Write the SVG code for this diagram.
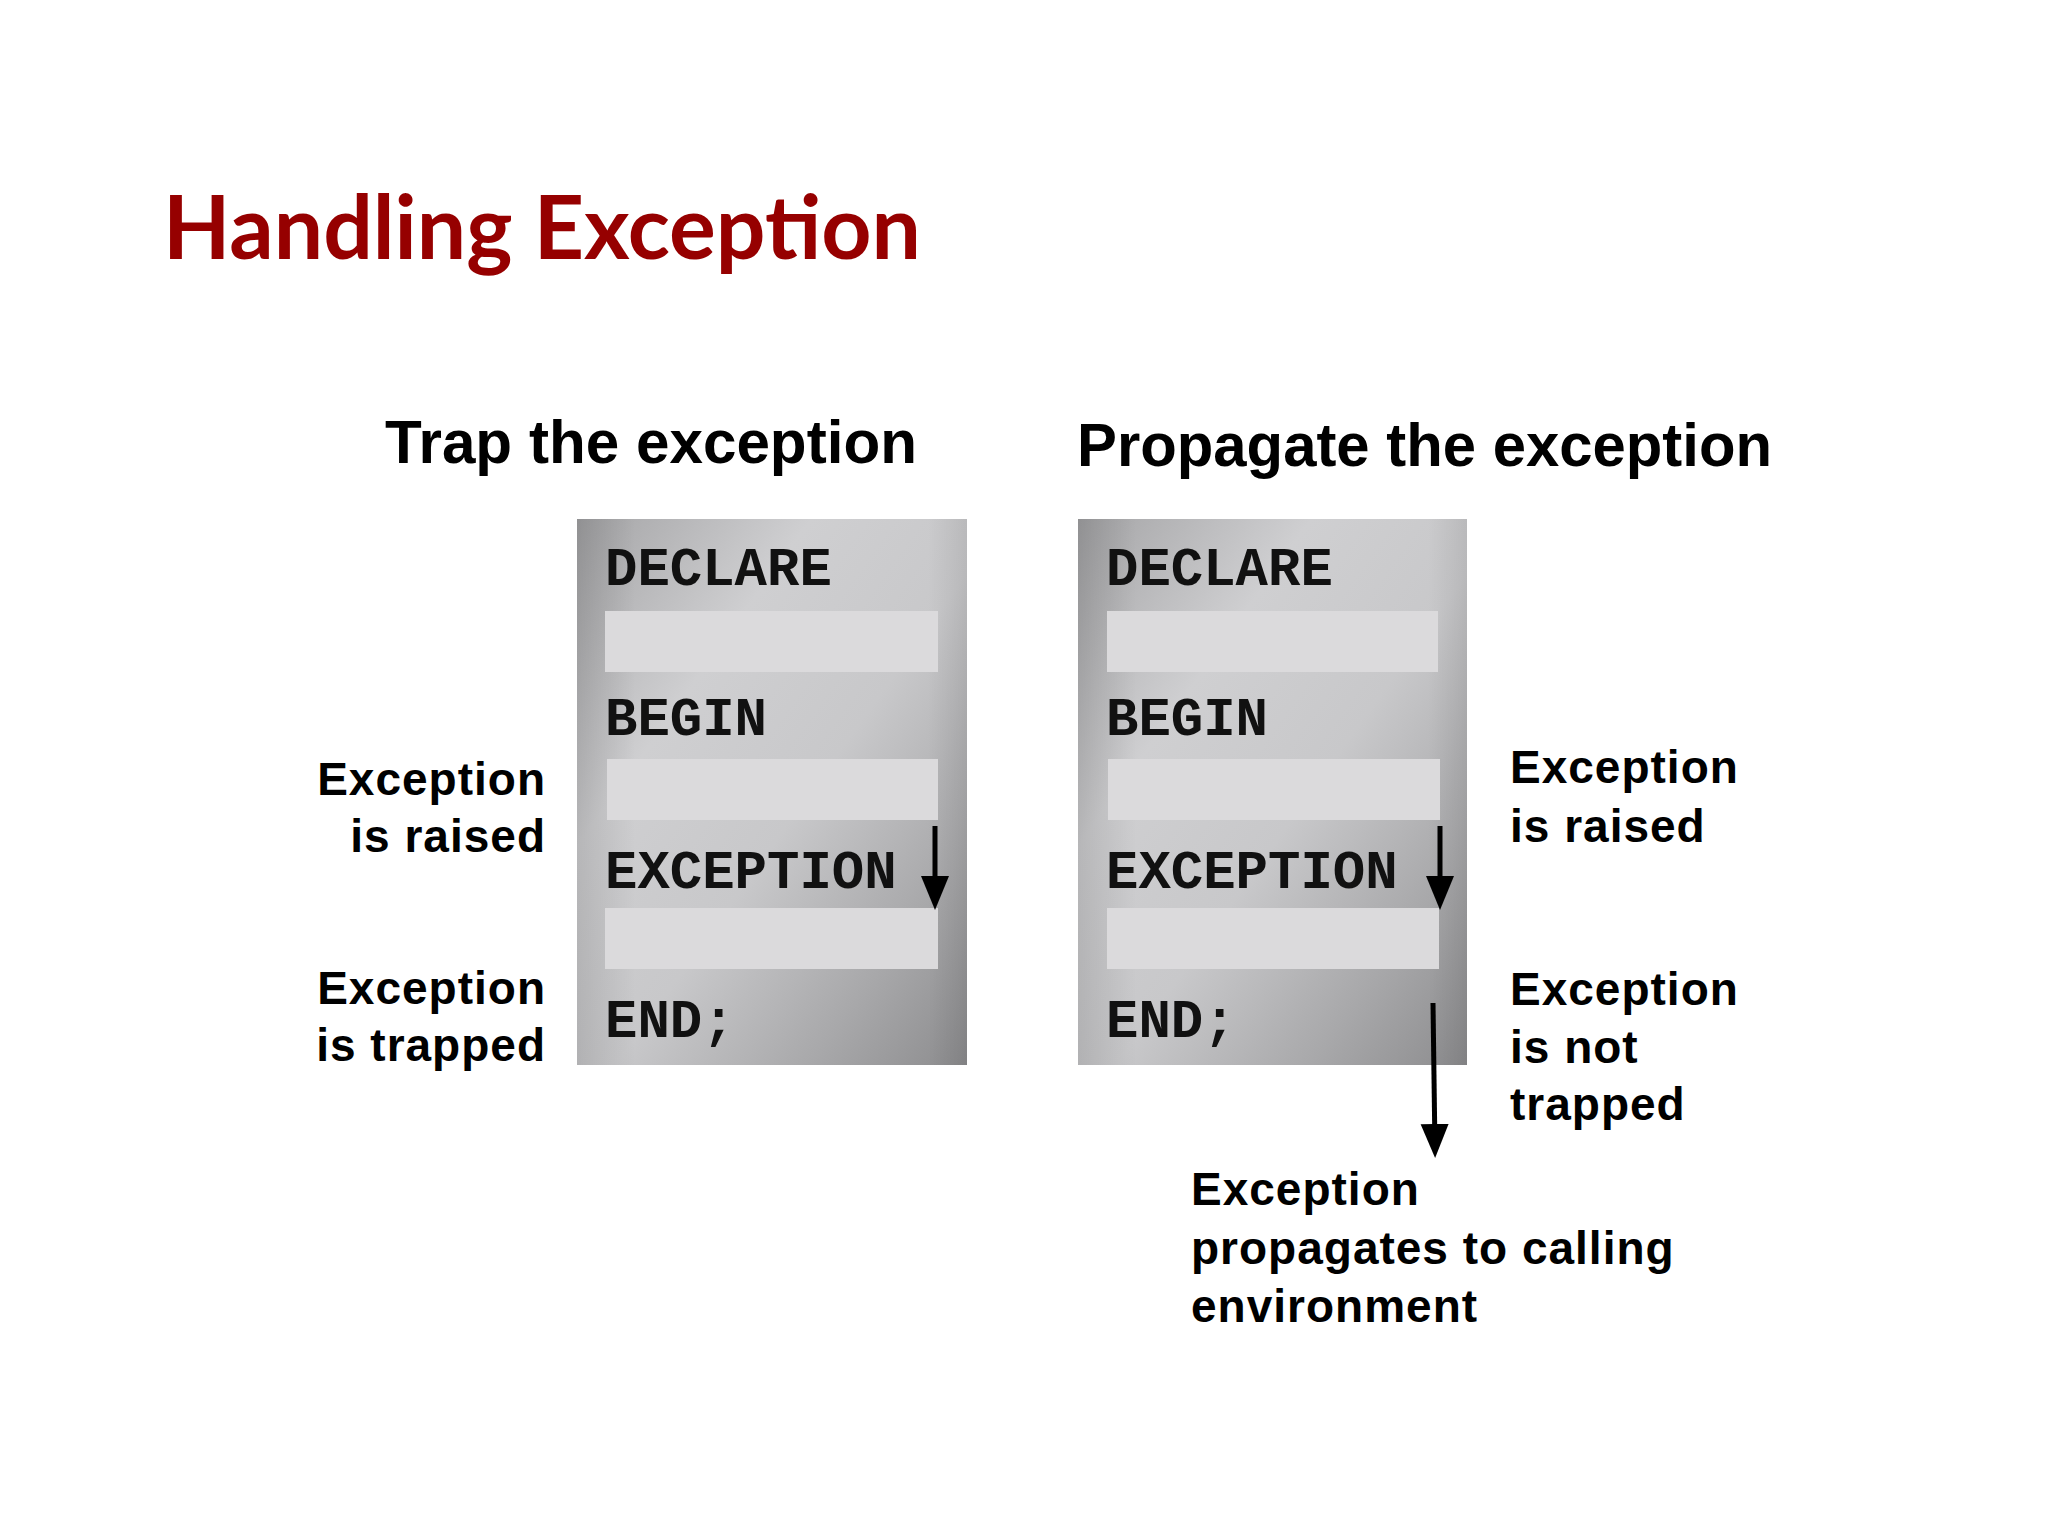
<svg xmlns="http://www.w3.org/2000/svg" width="2048" height="1536" viewBox="0 0 2048 1536">
  <defs>
    <linearGradient id="boxGrad" x1="0" y1="0" x2="1" y2="1">
      <stop offset="0" stop-color="#a4a4a6"/>
      <stop offset="0.3" stop-color="#cfcfd1"/>
      <stop offset="0.55" stop-color="#c8c8ca"/>
      <stop offset="0.8" stop-color="#a8a8aa"/>
      <stop offset="1" stop-color="#8c8c8e"/>
    </linearGradient>
    <linearGradient id="edgeGrad" x1="0" y1="0" x2="1" y2="0">
      <stop offset="0" stop-color="#000" stop-opacity="0.12"/>
      <stop offset="0.15" stop-color="#000" stop-opacity="0"/>
      <stop offset="0.9" stop-color="#000" stop-opacity="0"/>
      <stop offset="1" stop-color="#000" stop-opacity="0.08"/>
    </linearGradient>
    <marker id="head" markerUnits="userSpaceOnUse" markerWidth="36" markerHeight="30" viewBox="0 0 36 30" refX="26" refY="14" orient="auto">
      <path d="M0,0 L34,14 L0,28 Z" fill="#000"/>
    </marker>
    <style>
      .title { font-family: "Lato", "Open Sans", sans-serif; font-weight: bold; font-size: 88px; fill: #960000; }
      .sub { font-family: "Liberation Sans", Arial, sans-serif; font-weight: bold; font-size: 62px; fill: #000; }
      .lbl { font-family: "Liberation Sans", Arial, sans-serif; font-weight: bold; font-size: 46px; fill: #000; letter-spacing: 1px; }
      .code { font-family: "Liberation Mono", "Courier New", monospace; font-weight: bold; font-size: 54px; fill: #111; }
      .box { fill: url(#boxGrad); }
      .edge { fill: url(#edgeGrad); }
      .bar { fill: #dbdadc; }
      .conn { stroke: #000; stroke-width: 5; fill: none; marker-end: url(#head); }
    </style>
  </defs>
  <rect width="2048" height="1536" fill="#fff"/>

  <text id="title" class="title" x="163" y="259" textLength="758" lengthAdjust="spacingAndGlyphs">Handling Exception</text>

  <text id="trap-title" class="sub" x="385" y="463" textLength="532" lengthAdjust="spacingAndGlyphs">Trap the exception</text>
  <text id="prop-title" class="sub" x="1077" y="466" textLength="695" lengthAdjust="spacingAndGlyphs">Propagate the exception</text>

  <g id="trap-block">
    <rect class="box" x="577" y="519" width="390" height="546"/>
    <rect class="edge" x="577" y="519" width="390" height="546"/>
    <rect class="bar" x="605" y="611" width="333" height="61"/>
    <rect class="bar" x="607" y="759" width="331" height="61"/>
    <rect class="bar" x="605" y="908" width="333" height="61"/>
    <text class="code" x="605" y="585">DECLARE</text>
    <text class="code" x="605" y="735">BEGIN</text>
    <text class="code" x="605" y="888">EXCEPTION</text>
    <text class="code" x="605" y="1037">END;</text>
  </g>

  <g id="prop-block">
    <rect class="box" x="1078" y="519" width="389" height="546"/>
    <rect class="edge" x="1078" y="519" width="389" height="546"/>
    <rect class="bar" x="1107" y="611" width="331" height="61"/>
    <rect class="bar" x="1108" y="759" width="332" height="61"/>
    <rect class="bar" x="1107" y="908" width="332" height="61"/>
    <text class="code" x="1106" y="585">DECLARE</text>
    <text class="code" x="1106" y="735">BEGIN</text>
    <text class="code" x="1106" y="888">EXCEPTION</text>
    <text class="code" x="1106" y="1037">END;</text>
  </g>

  <g id="trap-labels" text-anchor="end">
    <text class="lbl" x="546" y="795">Exception</text>
    <text class="lbl" x="546" y="852">is raised</text>
    <text class="lbl" x="546" y="1004">Exception</text>
    <text class="lbl" x="546" y="1061">is trapped</text>
  </g>

  <g id="prop-labels">
    <text class="lbl" x="1510" y="783">Exception</text>
    <text class="lbl" x="1510" y="842">is raised</text>
    <text class="lbl" x="1510" y="1005">Exception</text>
    <text class="lbl" x="1510" y="1063">is not</text>
    <text class="lbl" x="1510" y="1120">trapped</text>
  </g>

  <g id="env-label">
    <text class="lbl" x="1191" y="1205">Exception</text>
    <text class="lbl" x="1191" y="1264">propagates to calling</text>
    <text class="lbl" x="1191" y="1322">environment</text>
  </g>

  <g id="connectors">
    <path class="conn" d="M935,826 L935,902"/>
    <path class="conn" d="M1440,826 L1440,902"/>
    <path class="conn" d="M1433,1003 L1435,1150"/>
  </g>
</svg>
